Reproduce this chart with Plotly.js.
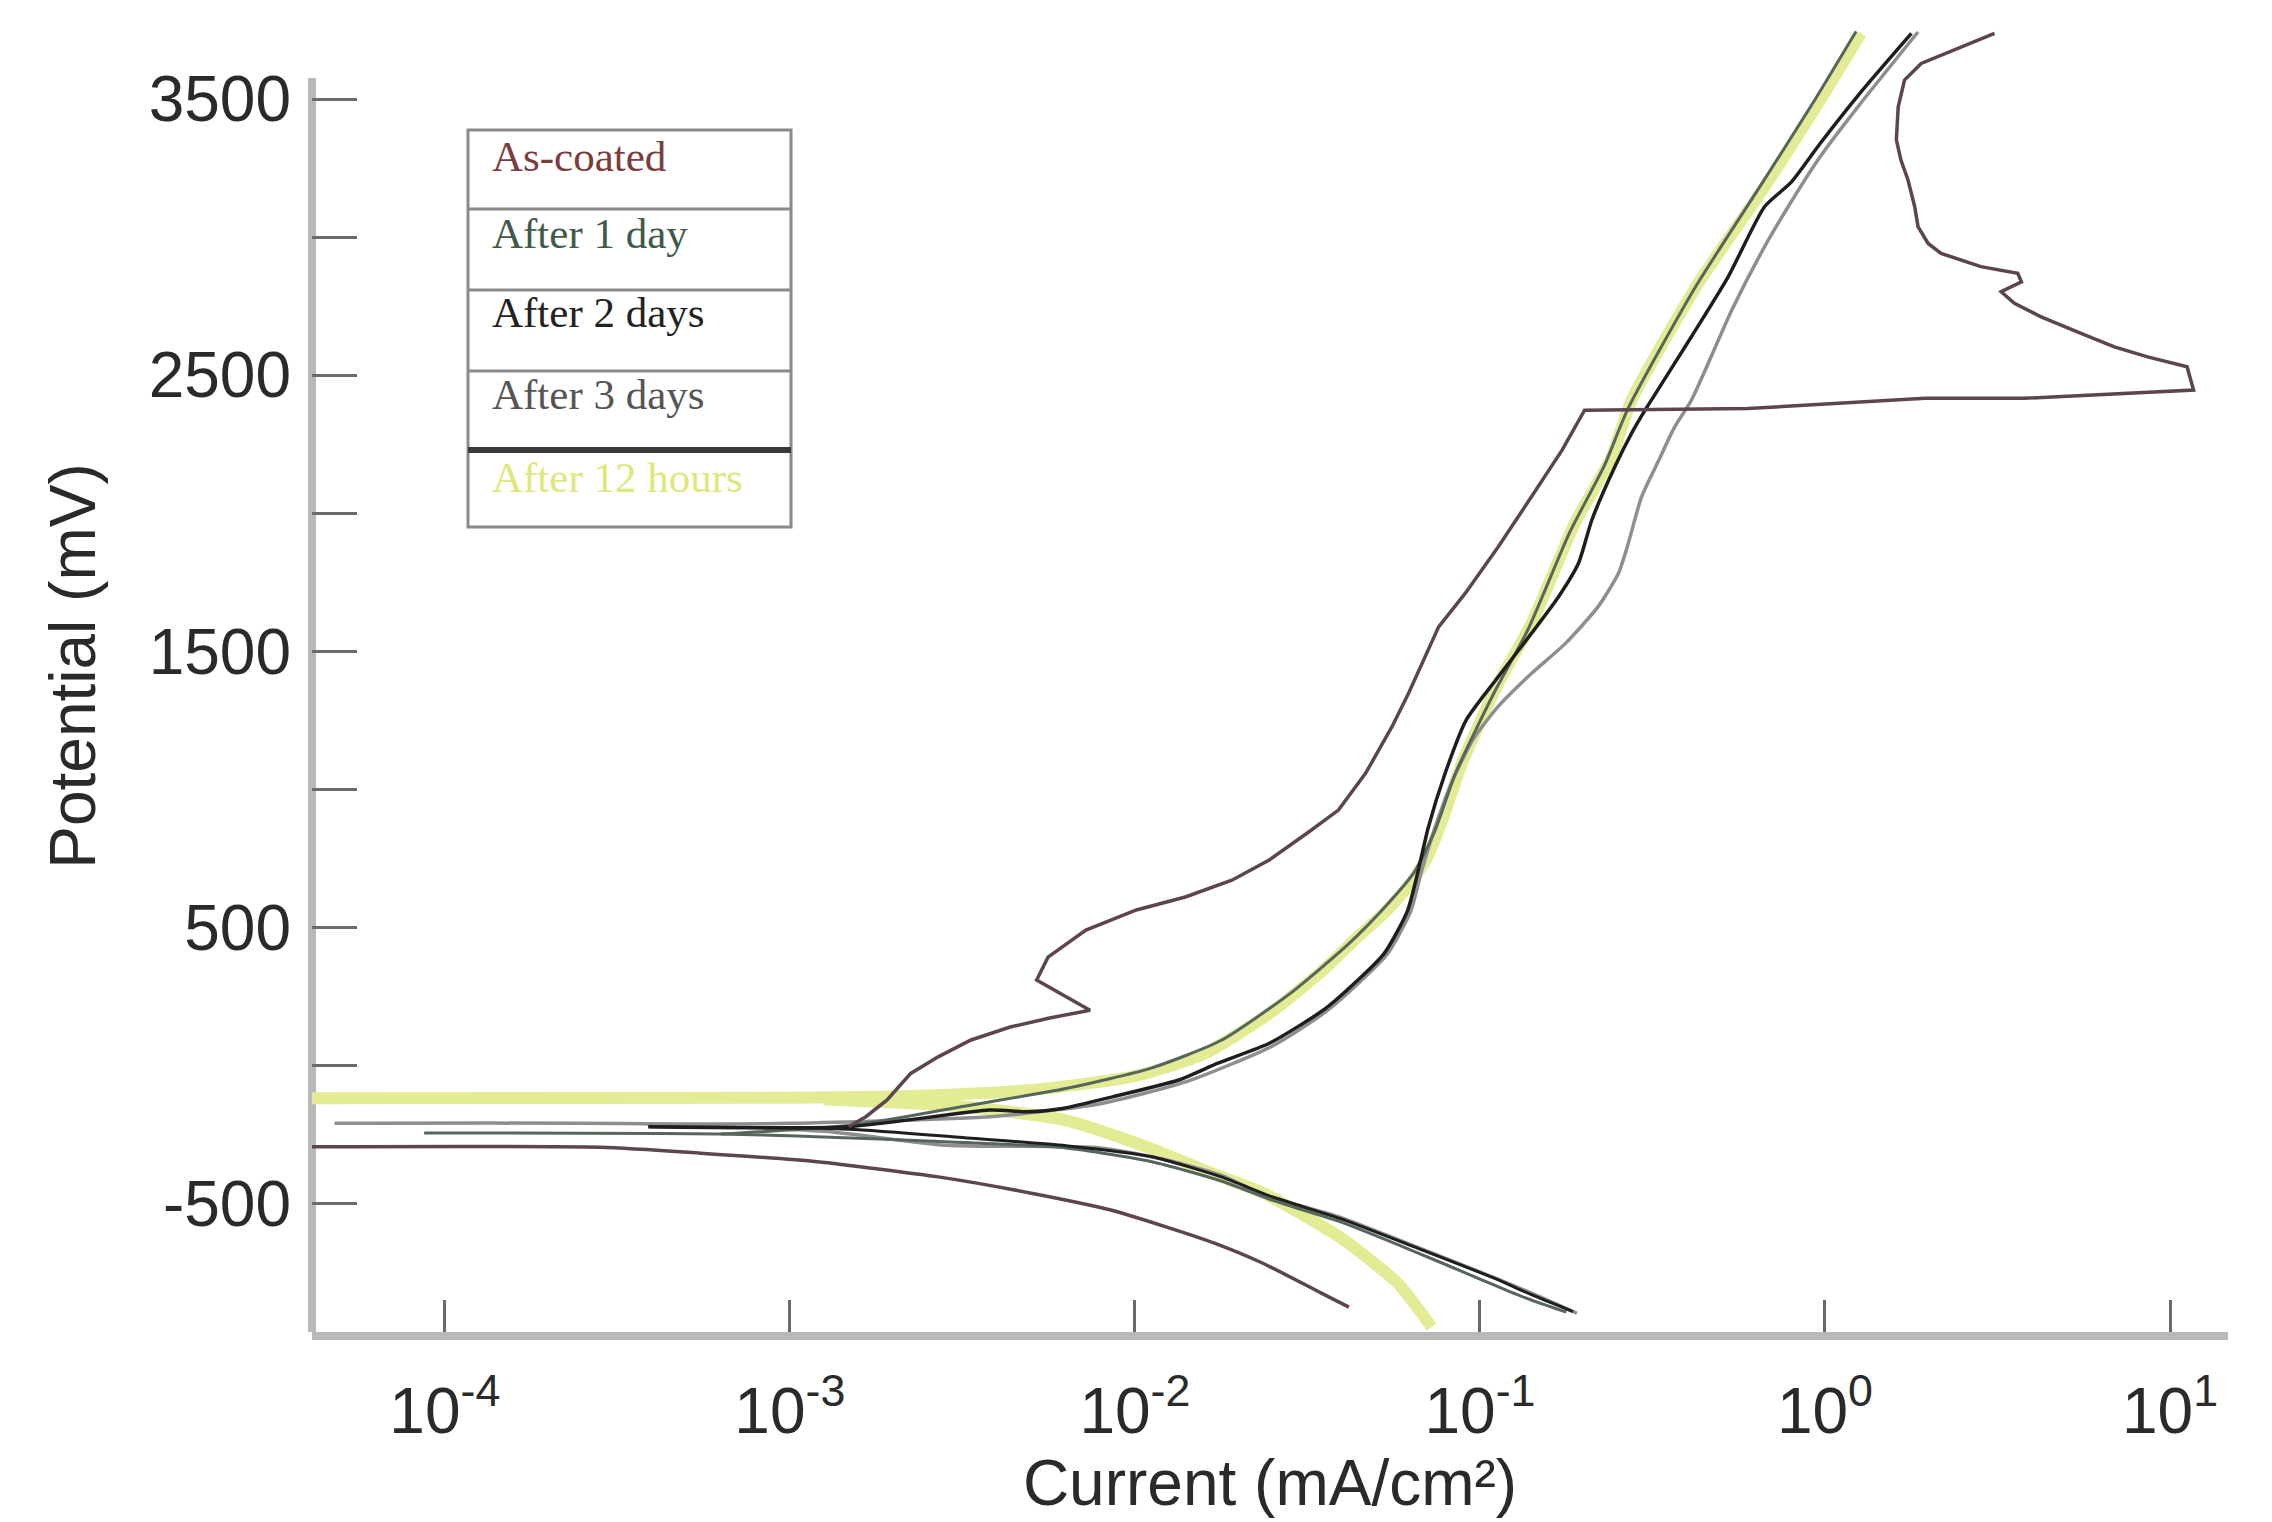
<!DOCTYPE html>
<html>
<head>
<meta charset="utf-8">
<script src="https://cdn.plot.ly/plotly-3.0.1.min.js"></script>
<style>
html,body{margin:0;padding:0;background:#ffffff;}
#chart{width:2272px;height:1522px;}
</style>
</head>
<body>
<div id="chart"></div>
<script>
// ---------------- DATA (current in mA/cm², potential in mV) ----------------
const seriesNames = ["As-coated", "After 1 day", "After 2 days", "After 3 days", "After 12 hours"];

// As-coated
const asCoatedCathI = [4.12e-5, 2.82e-4, 5.50e-4, 1.20e-3, 2.69e-3, 5.01e-3, 8.51e-3, 1.23e-2, 1.70e-2, 2.34e-2, 3.47e-2, 4.17e-2];
const asCoatedCathE = [-296, -298, -319, -350, -405, -464, -525, -586, -645, -717, -826, -877];
const asCoatedAnodI = [1.48e-3, 1.66e-3, 1.91e-3, 2.24e-3, 2.69e-3, 3.35e-3, 4.35e-3, 5.62e-3, 7.41e-3, 5.19e-3, 5.60e-3, 7.21e-3,
  1.01e-2, 1.40e-2, 1.91e-2, 2.45e-2, 3.16e-2, 3.89e-2, 4.66e-2, 5.56e-2, 6.21e-2, 6.79e-2, 7.59e-2, 9.06e-2,
  0.113, 0.141, 0.173, 0.201, 0.598, 1.95, 3.78, 11.7, 11.2, 8.61, 6.90, 5.52, 4.23, 3.54, 3.24, 3.71, 3.62,
  2.83, 2.17, 1.99, 1.86, 1.82, 1.74, 1.66, 1.61, 1.63, 1.70, 1.90, 2.37, 3.10];
const asCoatedAnodE = [-223, -187, -127, -30, 30, 91, 138, 170, 199, 308, 391, 489,
  562, 609, 670, 743, 841, 924, 1057, 1226, 1347, 1455, 1588, 1709,
  1878, 2059, 2228, 2373, 2379, 2416, 2416, 2446, 2530, 2566, 2602, 2651, 2711, 2760, 2802, 2838, 2869,
  2893, 2941, 2977, 3038, 3110, 3207, 3279, 3352, 3472, 3569, 3629, 3678, 3738];

// After 1 day
const day1CathI = [8.71e-5, 6.31e-4, 2.51e-3, 6.31e-3, 1.12e-2, 1.78e-2, 2.51e-2, 3.98e-2, 6.31e-2, 0.100, 0.132, 0.178];
const day1CathE = [-246, -250, -275, -300, -350, -420, -490, -570, -670, -775, -838, -895];
const day1AnodI = [6.31e-4, 1.58e-3, 3.16e-3, 6.31e-3, 1.12e-2, 1.78e-2, 2.82e-2, 4.17e-2, 5.37e-2, 6.46e-2, 7.41e-2,
  8.51e-2, 0.110, 0.138, 0.182, 0.229, 0.269, 0.417, 0.661, 0.933, 1.23];
const day1AnodE = [-250, -215, -150, -85, -10, 90, 260, 440, 580, 700, 850,
  1060, 1350, 1580, 1930, 2170, 2380, 2810, 3200, 3496, 3745];

// After 2 days
const day2CathI = [3.89e-4, 1.48e-3, 3.16e-3, 6.31e-3, 1.12e-2, 1.78e-2, 2.51e-2, 3.98e-2, 6.61e-2, 0.110, 0.141, 0.186];
const day2CathE = [-223, -232, -262, -292, -332, -405, -478, -558, -664, -772, -832, -893];
const day2AnodI = [3.89e-4, 1.48e-3, 3.80e-3, 4.90e-3, 6.17e-3, 8.61e-3, 1.34e-2, 1.74e-2, 2.46e-2, 3.61e-2, 5.28e-2,
  6.17e-2, 6.61e-2, 7.08e-2, 7.94e-2, 9.12e-2, 0.113, 0.141, 0.169, 0.193, 0.211, 0.246, 0.275, 0.301, 0.410, 0.524, 0.668,
  0.800, 0.968, 1.26, 1.78];
const day2AnodE = [-223, -223, -163, -169, -157, -115, -54, 7, 80, 210, 405,
  560, 700, 860, 1060, 1250, 1407, 1564, 1697, 1818, 1975, 2168, 2289, 2373, 2639, 2856, 3110,
  3200, 3339, 3520, 3738];

// After 3 days
const day3CathI = [4.79e-5, 3.89e-4, 1.26e-3, 2.82e-3, 7.94e-3, 1.20e-2, 1.78e-2, 2.36e-2, 3.92e-2, 6.55e-2, 0.109, 0.141, 0.191];
const day3CathE = [-211, -213, -240, -290, -300, -340, -400, -470, -551, -659, -768, -826, -899];
const day3AnodI = [3.89e-4, 1.0e-3, 3.98e-3, 7.94e-3, 1.41e-2, 2.51e-2, 3.63e-2, 5.37e-2, 6.31e-2, 6.76e-2, 7.41e-2, 8.32e-2,
  9.55e-2, 0.113, 0.141, 0.177, 0.220, 0.252, 0.269, 0.294, 0.330, 0.367, 0.410, 0.537, 0.668, 0.782, 0.968, 1.26, 1.86];
const day3AnodE = [-213, -211, -185, -140, -60, 70, 200, 400, 560, 700, 860, 1030,
  1180, 1300, 1419, 1528, 1661, 1782, 1890, 2059, 2192, 2313, 2409, 2736, 2965, 3110, 3291, 3480, 3743];

// After 12 hours
const h12CathI = [1.26e-3, 3.16e-3, 6.31e-3, 1.10e-2, 1.58e-2, 2.36e-2, 3.92e-2, 5.77e-2, 7.24e-2];
const h12CathE = [-125, -150, -200, -300, -380, -464, -623, -790, -949];
const h12AnodI = [4.12e-5, 1.0e-3, 2.51e-3, 5.01e-3, 1.0e-2, 1.58e-2, 2.46e-2, 3.55e-2, 4.47e-2, 5.28e-2, 6.31e-2,
  7.08e-2, 7.94e-2, 8.91e-2, 0.113, 0.141, 0.189, 0.240, 0.275, 0.429, 0.668, 0.968, 1.27];
const h12AnodE = [-120, -118, -110, -90, -40, 40, 188, 350, 470, 551, 660,
  760, 920, 1100, 1383, 1600, 1967, 2200, 2409, 2832, 3182, 3496, 3739];

// Axis ticks
const xTickVals = [1e-4, 1e-3, 1e-2, 1e-1, 1e0, 1e1];
const xTickText = ["10<sup>-4</sup>", "10<sup>-3</sup>", "10<sup>-2</sup>", "10<sup>-1</sup>", "10<sup>0</sup>", "10<sup>1</sup>"];
const yTickVals = [-500, 500, 1500, 2500, 3500];
const yTickText = ["-500", "500", "1500", "2500", "3500"];
const yMinorTickVals = [0, 1000, 2000, 3000];

// ---------------- STYLE ----------------
const lineColors = ["#5c4550", "#55665a", "#1e1e1e", "#8e8e8e", "#e4eb95"];
const textColors = ["#7a3c3c", "#3e5a48", "#222222", "#555555", "#dfe77a"];

function tr(x, y, ci, w, shape) {
  return {x: x, y: y, type: "scatter", mode: "lines", hoverinfo: "skip", showlegend: false,
    line: {color: lineColors[ci], width: w, shape: shape || "linear", smoothing: 0.6}};
}

const traces = [
  tr(h12AnodI, h12AnodE, 4, 12, "spline"),
  tr(h12CathI, h12CathE, 4, 12, "spline"),
  tr(day3CathI, day3CathE, 3, 3.5, "spline"),
  tr(day3AnodI, day3AnodE, 3, 3.5, "spline"),
  tr(day1CathI, day1CathE, 1, 3, "spline"),
  tr(day1AnodI, day1AnodE, 1, 3, "spline"),
  tr(day2CathI, day2CathE, 2, 3, "spline"),
  tr(day2AnodI, day2AnodE, 2, 3.5, "spline"),
  tr(asCoatedCathI, asCoatedCathE, 0, 3.5, "spline"),
  tr(asCoatedAnodI, asCoatedAnodE, 0, 3.5, "linear")
];

// ---------------- LAYOUT ----------------
const W = 2272, H = 1522;
const ML = 312, MR = 44, MT = 0, MB = 190;
const PW = W - ML - MR, PH = H - MT - MB;
const px = X => (X - ML) / PW;
const py = Y => (H - MB - Y) / PH;

const shapes = [
  // y axis line (stops short of the top)
  {type: "line", xref: "paper", yref: "y", x0: 0, x1: 0, y0: -967, y1: 3576,
   line: {color: "#b8b8b8", width: 8}, layer: "below"},
  // legend box
  {type: "rect", xref: "paper", yref: "paper", x0: px(468), x1: px(791), y0: py(527), y1: py(130),
   line: {color: "#8a8a8a", width: 3}, fillcolor: "rgba(255,255,255,0)"},
  {type: "line", xref: "paper", yref: "paper", x0: px(468), x1: px(791), y0: py(209), y1: py(209), line: {color: "#8a8a8a", width: 3}},
  {type: "line", xref: "paper", yref: "paper", x0: px(468), x1: px(791), y0: py(290), y1: py(290), line: {color: "#8a8a8a", width: 3}},
  {type: "line", xref: "paper", yref: "paper", x0: px(468), x1: px(791), y0: py(371), y1: py(371), line: {color: "#8a8a8a", width: 3}},
  {type: "line", xref: "paper", yref: "paper", x0: px(468), x1: px(791), y0: py(450), y1: py(450), line: {color: "#3a3a3a", width: 6}}
];

const legendCenters = [157, 234, 312, 394, 477];
const annotations = seriesNames.map((n, i) => ({
  xref: "paper", yref: "paper", x: px(490), y: py(legendCenters[i]), xanchor: "left", yanchor: "middle",
  text: n, showarrow: false,
  font: {family: "Liberation Serif, Times New Roman, serif", size: 43, color: textColors[i]}
}));

const sansFont = "Liberation Sans, Arial, Helvetica, sans-serif";

const layout = {
  width: W, height: H,
  margin: {l: ML, r: MR, t: MT, b: MB, pad: 0},
  paper_bgcolor: "#ffffff", plot_bgcolor: "#ffffff",
  showlegend: false,
  xaxis: {
    type: "log", range: [-4.385, 1.168],
    tickvals: xTickVals, ticktext: xTickText,
    ticks: "inside", ticklen: 32, tickwidth: 3, tickcolor: "#6a6a6a",
    showline: true, linecolor: "#b8b8b8", linewidth: 8,
    showgrid: false, zeroline: false,
    tickfont: {family: sansFont, size: 64, color: "#2a2a2a"},
    ticklabelstandoff: 16,
    title: {text: "Current (mA/cm²)", font: {family: sansFont, size: 64, color: "#2a2a2a"}, standoff: 2}
  },
  yaxis: {
    range: [-967, 3859],
    tickvals: yTickVals, ticktext: yTickText,
    ticks: "inside", ticklen: 45, tickwidth: 3, tickcolor: "#6a6a6a",
    minor: {tickvals: yMinorTickVals, ticks: "inside", ticklen: 45, tickwidth: 3, tickcolor: "#6a6a6a", showgrid: false},
    showline: false, showgrid: false, zeroline: false,
    tickfont: {family: sansFont, size: 64, color: "#2a2a2a"},
    ticklabelstandoff: 20,
    title: {text: "Potential (mV)", font: {family: sansFont, size: 64, color: "#2a2a2a"}, standoff: 32}
  },
  shapes: shapes,
  annotations: annotations
};

Plotly.newPlot("chart", traces, layout, {staticPlot: true, displayModeBar: false});
</script>
</body>
</html>
